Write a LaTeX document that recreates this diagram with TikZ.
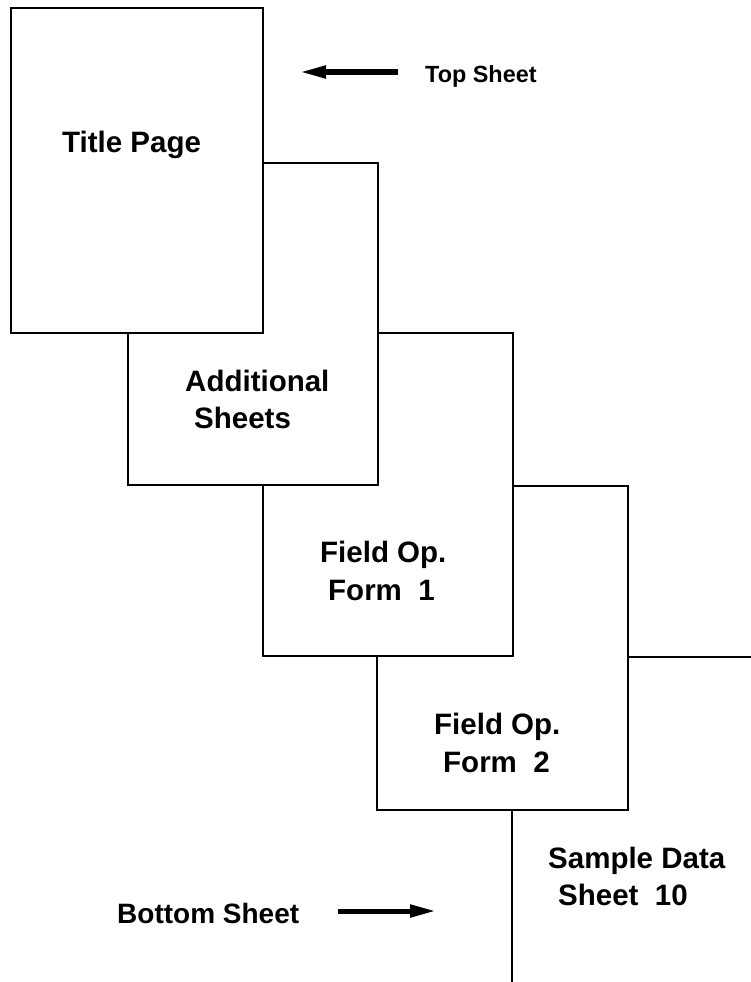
\documentclass[tikz,border=0pt]{standalone}
\usepackage{fontspec}
\setmainfont{Liberation Sans}
\usetikzlibrary{arrows.meta}
\tikzset{
  sheet/.style={draw=black, fill=white, line width=2.4pt},
  lbl/.style={font=\fontsize{29.5}{36}\selectfont\bfseries, anchor=base west, inner sep=0pt},
  smalllbl/.style={font=\fontsize{23.4}{28}\selectfont\bfseries, anchor=base west, inner sep=0pt},
  pointer/.style={line width=5pt, -{Triangle[length=26pt,width=12pt]}}
}
\begin{document}
\begin{tikzpicture}[x=1pt,y=-1pt]
\useasboundingbox (0,0) rectangle (751,982);
\clip (0,0) rectangle (751,982);
% sheets, bottom first
\draw[sheet] (512,657) rectangle (800,1040);
\draw[sheet] (377,486) rectangle (628,810);
\draw[sheet] (263,333) rectangle (513,656);
\draw[sheet] (128,163) rectangle (378,485);
\draw[sheet] (11,8) rectangle (263,333);
% labels
\node[lbl] (title) at (62,152) {Title Page};
\node[lbl] (addA) at (185,391) {Additional};
\node[lbl] (addB) at (194,428) {Sheets};
\node[lbl] (foA) at (320,562) {Field Op.};
\node[lbl] (foB) at (328,600) {Form~~1};
\node[lbl] (ftA) at (434,734) {Field Op.};
\node[lbl] (ftB) at (443,772) {Form~~2};
\node[lbl] (sdA) at (548,868) {Sample Data};
\node[lbl] (sdB) at (558,905) {Sheet~~10};
\node[smalllbl] (top) at (425,82) {Top Sheet};
\node[lbl, font=\fontsize{28}{33}\selectfont\bfseries] (bottom) at (117,923) {Bottom Sheet};
% pointers
\coordinate (ttail) at (398,72);
\coordinate (ttip) at (300,72);
\draw[pointer] (ttail) -- (ttip);
\coordinate (btail) at (338,911);
\coordinate (btip) at (436,911);
\draw[pointer] (btail) -- (btip);
\end{tikzpicture}
\end{document}
